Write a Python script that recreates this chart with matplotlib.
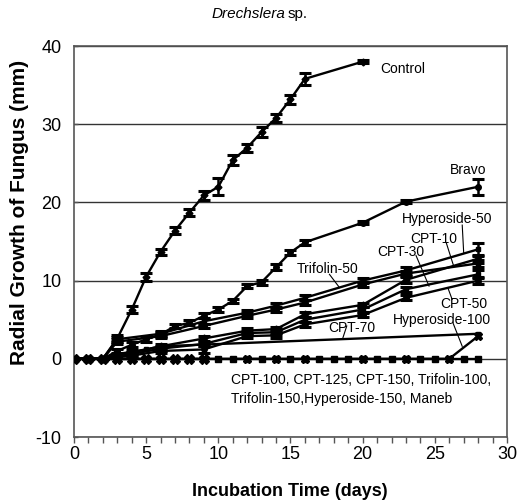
import matplotlib.pyplot as plt
from matplotlib.ticker import MultipleLocator

plt.rcParams['font.family'] = ['Liberation Sans', 'DejaVu Sans']
plt.rcParams['axes.unicode_minus'] = False

# --- data (days, mm, +/- error) ---
control_days = [0, 1, 2, 3, 4, 5, 6, 7, 8, 9, 10, 11, 12, 13, 14, 15, 16, 20]
control = [0, 0, 0, 2.6, 6.3, 10.5, 13.7, 16.4, 18.7, 20.9, 22.0, 25.4, 27.0, 29.0, 30.8, 33.2, 35.8, 38.0]
control_err = [0, 0, 0, 0.5, 0.4, 0.5, 0.4, 0.4, 0.4, 0.6, 1.1, 0.6, 0.5, 0.6, 0.5, 0.6, 0.8, 0.2]

bravo_days = [0, 1, 2, 3, 4, 5, 6, 7, 8, 9, 10, 11, 12, 13, 14, 15, 16, 20, 23, 28]
bravo = [0, 0, 0, 1.0, 1.8, 2.5, 3.1, 4.2, 4.6, 5.5, 6.3, 7.4, 9.3, 9.8, 11.7, 13.6, 14.9, 17.4, 20.1, 22.0]
bravo_err = [0, 0, 0, 0.3, 0.3, 0.3, 0.3, 0.3, 0.3, 0.3, 0.3, 0.3, 0.3, 0.3, 0.4, 0.3, 0.3, 0.2, 0.2, 1.0]

upper_days = [0, 1, 2, 3, 6, 9, 12, 14, 16, 20, 23, 28]
hyp50 = [0, 0, 0, 2.5, 3.2, 4.8, 5.9, 6.8, 7.8, 10.0, 11.3, 14.0]
hyp50_err = [0, 0, 0, 0.3, 0.3, 0.4, 0.3, 0.3, 0.3, 0.3, 0.4, 0.8]
trif50 = [0, 0, 0, 2.2, 2.9, 4.2, 5.5, 6.3, 7.2, 9.5, 10.9, 12.2]
trif50_err = [0, 0, 0, 0.3, 0.3, 0.3, 0.3, 0.3, 0.3, 0.3, 0.3, 0.5]

lower_days = [0, 1, 2, 4, 6, 9, 12, 14, 16, 20, 23, 28]
cpt10 = [0, 0, 0, 0.8, 1.6, 2.6, 3.6, 3.8, 5.7, 6.9, 10.1, 12.8]
cpt10_err = [0, 0, 0, 0.3, 0.3, 0.3, 0.3, 0.3, 0.3, 0.3, 0.4, 0.5]
cpt30 = [0, 0, 0, 0.6, 1.3, 1.9, 3.3, 3.4, 5.0, 6.3, 8.9, 10.8]
cpt30_err = [0, 0, 0, 0.3, 0.3, 0.3, 0.3, 0.3, 0.3, 0.3, 0.3, 0.5]
cpt50 = [0, 0, 0, 0.4, 1.0, 1.2, 2.9, 3.0, 4.4, 5.6, 7.8, 10.0]
cpt50_err = [0, 0, 0, 0.3, 0.3, 0.4, 0.3, 0.3, 0.3, 0.3, 0.3, 0.4]

cpt70_days = [0, 1, 2, 3, 4, 5, 6, 28]
cpt70 = [0, 0, 0, 0.6, 0.9, 1.2, 1.6, 3.2]

hyp100_days = [0, 3, 6, 9, 12, 14, 16, 20, 23, 26, 28]
hyp100 = [0, 0, 0, 0, 0, 0, 0, 0, 0, 0, 2.9]

zero_days = list(range(0, 29))
zero_vals = [0] * len(zero_days)
zero_early_days = list(range(0, 10))
zero_early = [0] * len(zero_early_days)

fig = plt.figure(figsize=(5.17, 5.03), dpi=100)
ax = fig.add_axes([0.1431, 0.1312, 0.8375, 0.7773])

eb = dict(color='k', lw=1.7, elinewidth=1.8, capsize=4.5, capthick=2.2)

ax.plot(zero_days, zero_vals, color='k', lw=1.7, marker='s', ms=4.5, zorder=3)
ax.plot(zero_early_days, zero_early, color='k', lw=1.7, marker='X', ms=7, zorder=3)
ax.plot(hyp100_days, hyp100, color='k', lw=1.7, marker='X', ms=6, zorder=3)
ax.plot(cpt70_days, cpt70, color='k', lw=1.7, marker='s', ms=3.5, zorder=3)

ax.errorbar(control_days, control, yerr=control_err, marker='D', ms=3.5, **eb)
ax.errorbar(bravo_days, bravo, yerr=bravo_err, marker='o', ms=4, **eb)
ax.errorbar(upper_days, hyp50, yerr=hyp50_err, marker='s', ms=3.5, **eb)
ax.errorbar(upper_days, trif50, yerr=trif50_err, marker='o', ms=4, **eb)
ax.errorbar(lower_days, cpt10, yerr=cpt10_err, marker='D', ms=3.5, **eb)
ax.errorbar(lower_days, cpt30, yerr=cpt30_err, marker='s', ms=3.5, **eb)
ax.errorbar(lower_days, cpt50, yerr=cpt50_err, marker='o', ms=4, **eb)

ax.set_xlim(0, 30)
ax.set_ylim(-10, 40)
ax.xaxis.set_major_locator(MultipleLocator(5))
ax.xaxis.set_minor_locator(MultipleLocator(1))
ax.set_yticks([-10, 0, 10, 20, 30, 40])
ax.yaxis.grid(True, color='#333333', lw=1)
ax.set_axisbelow(True)
ax.tick_params(axis='x', which='both', direction='out', length=4.5, width=1,
               color='#555555', labelsize=13, pad=2)
ax.tick_params(axis='y', direction='in', length=3, width=1,
               color='#555555', labelsize=13, pad=9)
for s in ax.spines.values():
    s.set_color('#555555')
    s.set_linewidth(1.2)

# labels on the curves
fs = 10
ax.text(21.2, 37.1, 'Control', fontsize=fs, va='center')
ax.text(26.06, 24.2, 'Bravo', fontsize=fs, va='center')
ax.text(22.7, 17.9, 'Hyperoside-50', fontsize=fs, va='center')
ax.text(23.3, 15.3, 'CPT-10', fontsize=fs, va='center')
ax.text(21.0, 13.6, 'CPT-30', fontsize=fs, va='center')
ax.text(15.45, 11.5, 'Trifolin-50', fontsize=fs, va='center')
ax.text(25.4, 7.0, 'CPT-50', fontsize=fs, va='center')
ax.text(22.1, 5.0, 'Hyperoside-100', fontsize=fs, va='center')
ax.text(17.6, 3.9, 'CPT-70', fontsize=fs, va='center')
ax.text(10.9, -2.7, 'CPT-100, CPT-125, CPT-150, Trifolin-100,', fontsize=fs, va='center')
ax.text(10.9, -5.1, 'Trifolin-150,Hyperoside-150, Maneb', fontsize=fs, va='center')

# leader lines
ax.plot([26.9, 27.0], [17.1, 13.6], color='k', lw=0.8)
ax.plot([25.8, 26.3], [14.8, 11.9], color='k', lw=0.8)
ax.plot([23.7, 24.6], [13.2, 9.3], color='k', lw=0.8)
ax.plot([17.7, 18.4], [10.8, 9.1], color='k', lw=0.8)
ax.plot([26.2, 25.9], [7.6, 9.1], color='k', lw=0.8)
ax.plot([18.9, 18.6], [4.2, 2.5], color='k', lw=0.8)
ax.plot([26.3, 26.9], [4.4, 1.6], color='k', lw=0.8)

# title with italic genus
fig.text(285 / 517, 1 - 14 / 503, 'Drechslera', fontsize=11, style='italic',
         ha='right', va='center')
fig.text(288 / 517, 1 - 14 / 503, 'sp.', fontsize=11, ha='left', va='center')

fig.text(20 / 517, 1 - 212 / 503, 'Radial Growth of Fungus (mm)', fontsize=15,
         fontweight='bold', rotation=90, ha='center', va='center')
fig.text(290 / 517, 1 - 491 / 503, 'Incubation Time (days)', fontsize=13,
         fontweight='bold', ha='center', va='center')

fig.savefig('out.png', dpi=100)
